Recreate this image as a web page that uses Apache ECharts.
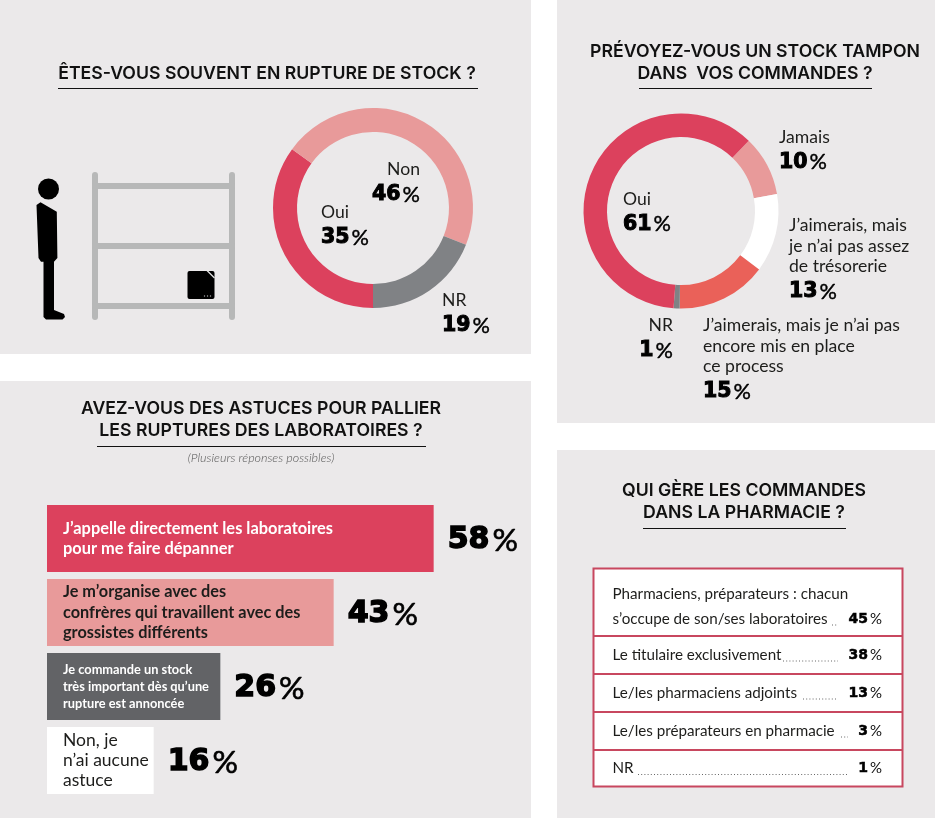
<!DOCTYPE html>
<html>
<head>
<meta charset="utf-8">
<style>
  html, body { margin: 0; padding: 0; background: #fff; }
  #main { width: 935px; height: 818px; }
</style>
<script src="https://cdn.jsdelivr.net/npm/echarts@6/dist/echarts.min.js"></script>
</head>
<body>
<div id="main"></div>
<script>
// donut 1
const stockNames = ['Oui', 'Non', 'NR'];
const stockValues = [35, 46, 19];
// donut 2
const bufferNames = ['Jamais', "J’aimerais, mais\nje n’ai pas assez\nde trésorerie", "J’aimerais, mais je n’ai pas\nencore mis en place\nce process", 'NR', 'Oui'];
const bufferValues = [10, 13, 15, 1, 61];
// bars
const tipNames = ["J’appelle directement les laboratoires\npour me faire dépanner", "Je m’organise avec des\nconfrères qui travaillent avec des\ngrossistes différents", "Je commande un stock\ntrès important dès qu’une\nrupture est annoncée", "Non, je\nn’ai aucune\nastuce"];
const tipValues = [58, 43, 26, 16];
// table
const whoNames = ["Pharmaciens, préparateurs : chacun\ns’occupe de son/ses laboratoires", 'Le titulaire exclusivement', 'Le/les pharmaciens adjoints', 'Le/les préparateurs en pharmacie', 'NR'];
const whoValues = [45, 38, 13, 3, 1];

const RED = '#dc415d';
const PINK = '#e89a9a';
const PANEL = '#ebe9ea';
const INK = '#1d1d1b';
const BODY_FONT = 'Lato';
const TITLE_FONT = 'Inter';
const NUM_FONT = '"DejaVu Sans"';

function percentRich(size, lineHeight) {
  return {
    n: { fontFamily: NUM_FONT, fontWeight: 'bold', fontSize: size, color: '#000', textBorderColor: '#000', textBorderWidth: size / 20, lineHeight: lineHeight },
    p: { fontFamily: BODY_FONT, fontWeight: 'normal', fontSize: size * 1.06, color: '#000', textBorderColor: '#000', textBorderWidth: size / 50, padding: [0, 0, 0, size * 0.1], lineHeight: lineHeight },
  };
}

function donutLabel(lineHeight) {
  return {
    show: true,
    align: 'left',
    verticalAlign: 'top',
    formatter: (p) => {
      const lines = p.name.split('\n').map((l) => `{t|${l}}`).join('\n');
      return `${lines}\n{n|${p.value}}{p|%}`;
    },
    rich: Object.assign({ t: { fontFamily: BODY_FONT, fontSize: 17.6, color: INK, lineHeight: lineHeight } }, percentRich(20.5, 30)),
  };
}

function title(lines, cx, y) {
  return lines.map((l, i) => ({
    type: 'text',
    style: { text: l, x: cx, y: y + 1.5 + i * 22, align: 'center', verticalAlign: 'middle', fontFamily: TITLE_FONT, fontWeight: 600, fontSize: 17.7, fill: '#111' },
  }));
}

function rule(x1, x2, y) {
  return { type: 'line', shape: { x1, y1: y, x2, y2: y }, style: { stroke: '#111', lineWidth: 1 } };
}

function panel(x, y, width, height) {
  return { type: 'rect', shape: { x, y, width, height }, style: { fill: PANEL } };
}

// rack + person drawing next to the first donut
const RACK = '#b7b8b8';
function illustration() {
  const bar = (x1, y1, x2, y2) => ({ type: 'line', shape: { x1, y1, x2, y2 }, style: { stroke: RACK, lineWidth: 6, lineCap: 'round' } });
  const dot = (cx) => ({ type: 'circle', shape: { cx, cy: 296, r: 0.7 }, style: { fill: '#aaa' } });
  return [
    bar(95, 175, 95, 317), bar(232, 175, 232, 317),
    bar(95, 186, 232, 186), bar(95, 246, 232, 246), bar(95, 306, 232, 306),
    { type: 'circle', shape: { cx: 48.5, cy: 189, r: 10.5 }, style: { fill: '#000' } },
    { type: 'polygon', shape: { points: [[36.5, 205], [40.5, 202.3], [56.8, 211.7], [57.4, 258], [54, 261.7], [54, 310], [64, 314], [65, 317], [62.5, 319.5], [46, 319.5], [43.5, 317], [43.5, 261.7], [41, 261.7], [38.5, 258]] }, style: { fill: '#000' } },
    { type: 'rect', shape: { x: 187.5, y: 271, width: 27, height: 28, r: 2 }, style: { fill: '#000' } },
    { type: 'line', shape: { x1: 207, y1: 270.5, x2: 214.5, y2: 278 }, style: { stroke: '#e5e5e5', lineWidth: 1.2 } },
    dot(204.5), dot(207.5), dot(210.5),
  ];
}

// table on the lower right, one row per answer
const whoTop = 568.5;
const whoEdges = [636, 674, 712, 750, 787];
const whoLeaders = [[832, 838], [783, 838], [803, 838], [841, 848], [638, 848]];
function whoTable() {
  const els = [{ type: 'rect', shape: { x: 593.5, y: whoTop, width: 309, height: 218 }, style: { fill: '#fff', stroke: '#c8475f', lineWidth: 2 } }];
  whoNames.forEach((name, i) => {
    const top = i ? whoEdges[i - 1] : whoTop;
    const bottom = whoEdges[i];
    if (i < whoNames.length - 1) {
      els.push({ type: 'line', shape: { x1: 593, y1: bottom, x2: 903, y2: bottom }, style: { stroke: '#c8475f', lineWidth: 2 } });
    }
    const lines = name.split('\n');
    const lastY = lines.length > 1 ? 619 : (top + bottom) / 2;
    lines.forEach((l, k) => {
      els.push({ type: 'text', style: { text: l, x: 612.5, y: lastY - (lines.length - 1 - k) * 24.5, align: 'left', verticalAlign: 'middle', fontFamily: BODY_FONT, fontSize: 15.2, fill: INK } });
    });
    els.push({
      type: 'line',
      shape: { x1: whoLeaders[i][0], y1: lastY + 6, x2: whoLeaders[i][1], y2: lastY + 6 },
      style: { stroke: '#666', lineWidth: 1, lineDash: [1, 2.2] },
    });
    els.push({
      type: 'text',
      style: {
        x: 882, y: lastY, align: 'right', verticalAlign: 'middle',
        text: `{n|${whoValues[i]}}{p|%}`,
        rich: {
          n: { fontFamily: NUM_FONT, fontWeight: 'bold', fontSize: 14, fill: '#000', stroke: '#000', lineWidth: 0.5 },
          p: { fontFamily: BODY_FONT, fontSize: 15, fill: '#111', padding: [0, 0, 0, 2] },
        },
      },
    });
  });
  return els;
}

const stockPos = [[321, 201], [420, 158], [442, 289]];
const bufferPos = [[779, 126.7], [789, 215.5], [703, 315.5], [673, 315], [623, 188.7]];

const chart = echarts.init(document.getElementById('main'));
chart.setOption({
  animation: false,
  backgroundColor: '#fff',
  graphic: {
    elements: [
      panel(0, 0, 531, 354), panel(557, 0, 378, 423), panel(0, 381, 531, 437), panel(557, 450, 378, 368),
      ...title(['ÊTES-VOUS SOUVENT EN RUPTURE DE STOCK ?'], 267, 72),
      rule(58, 478, 88.5),
      ...title(['PRÉVOYEZ-VOUS UN STOCK TAMPON', 'DANS  VOS COMMANDES ?'], 755, 50),
      rule(639, 872, 88.5),
      ...title(['AVEZ-VOUS DES ASTUCES POUR PALLIER', 'LES RUPTURES DES LABORATOIRES ?'], 261, 407.5),
      rule(97, 426, 446.5),
      { type: 'text', style: { text: '(Plusieurs réponses possibles)', x: 261, y: 458, align: 'center', verticalAlign: 'middle', fontFamily: BODY_FONT, fontStyle: 'italic', fontWeight: 300, fontSize: 12.5, fill: '#555' } },
      ...title(['QUI GÈRE LES COMMANDES', 'DANS LA PHARMACIE ?'], 744, 489.5),
      rule(643, 846, 528.5),
      ...illustration(),
      ...whoTable(),
    ],
  },
  grid: { left: 47, top: 501.5, width: 400, height: 296 },
  xAxis: { type: 'value', min: 0, max: 60, show: false },
  yAxis: {
    type: 'category',
    inverse: true,
    data: tipNames,
    axisLine: { show: false },
    axisTick: { show: false },
    splitLine: { show: false },
    z: 5,
    axisLabel: {
      inside: true,
      margin: 16,
      align: 'left',
      formatter: (v, i) => v.split('\n').map((l) => `{r${i}|${l}}`).join('\n'),
      rich: {
        r0: { fontFamily: BODY_FONT, fontWeight: 'bold', fontSize: 16.4, lineHeight: 20.5, color: '#fff' },
        r1: { fontFamily: BODY_FONT, fontWeight: 'bold', fontSize: 16.3, lineHeight: 20.5, color: INK },
        r2: { fontFamily: BODY_FONT, fontWeight: 'bold', fontSize: 12.8, lineHeight: 17, color: '#fff' },
        r3: { fontFamily: BODY_FONT, fontWeight: 'normal', fontSize: 17.5, lineHeight: 20, color: INK },
      },
    },
  },
  series: [
    {
      type: 'bar',
      barWidth: 67,
      data: tipValues.map((v, i) => ({ value: v, itemStyle: { color: [RED, PINK, '#626366', '#fff'][i] } })),
      label: {
        show: true,
        position: 'right',
        distance: 14,
        offset: [0, 2],
        formatter: (p) => `{n|${p.value}}{p|%}`,
        rich: percentRich(30, 34),
      },
    },
    {
      type: 'pie',
      center: [373, 208],
      radius: [76, 100],
      startAngle: 270,
      clockwise: true,
      avoidLabelOverlap: false,
      silent: true,
      data: stockNames.map((n, i) => ({ name: n, value: stockValues[i], itemStyle: { color: [RED, PINK, '#808285'][i] } })),
      label: donutLabel(22),
      labelLine: { show: false },
      labelLayout: (p) => ({ x: stockPos[p.dataIndex][0], y: stockPos[p.dataIndex][1], align: p.dataIndex === 1 ? 'right' : 'left', verticalAlign: 'top' }),
    },
    {
      type: 'pie',
      center: [681, 211],
      radius: [74, 97.5],
      startAngle: 46,
      clockwise: true,
      avoidLabelOverlap: false,
      silent: true,
      data: bufferNames.map((n, i) => ({ name: n, value: bufferValues[i], itemStyle: { color: [PINK, '#fff', '#ea6159', '#808285', RED][i] } })),
      label: donutLabel(20.5),
      labelLine: { show: false },
      labelLayout: (p) => ({ x: bufferPos[p.dataIndex][0], y: bufferPos[p.dataIndex][1], align: p.dataIndex === 3 ? 'right' : 'left', verticalAlign: 'top' }),
    },
  ],
});
</script>
</body>
</html>
